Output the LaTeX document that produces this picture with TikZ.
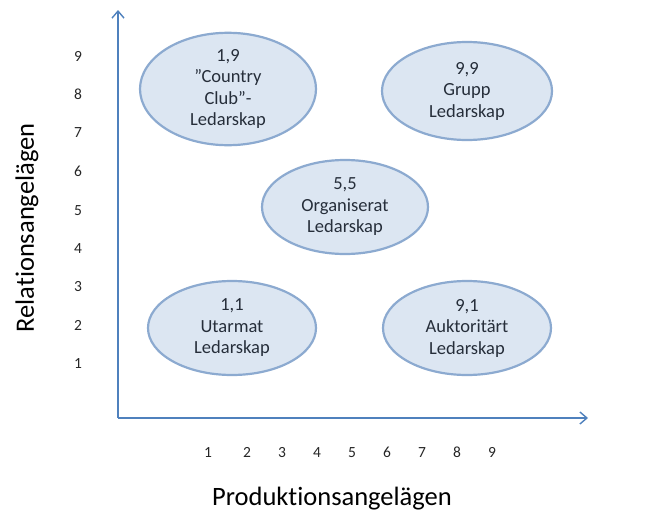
\documentclass[tikz,border=0pt]{standalone}
\usepackage{fontspec}
\setmainfont{Carlito}[Ligatures=NoCommon, Numbers=Lining]
\usepackage{xcolor}
\usetikzlibrary{arrows.meta,shapes.geometric}
\definecolor{axisblue}{RGB}{79,129,189}
\definecolor{ringblue}{RGB}{140,170,208}
\definecolor{fillblue}{RGB}{220,230,242}
\definecolor{inktext}{RGB}{38,46,58}
\tikzset{
  style/.style={ellipse, draw=ringblue, line width=2.2pt, fill=fillblue, minimum width=168pt, minimum height=94pt, align=center, inner sep=0pt, text=inktext, font=\fontsize{18.5}{21.5}\selectfont},
  axis/.style={axisblue, line width=1.6pt, -{Straight Barb[length=7pt,width=12pt,line width=1.4pt]}},
  tick/.style={font=\fontsize{15.5}{17}\selectfont, text=black!85, text height=10pt, text depth=0pt},
  title/.style={font=\fontsize{26.5}{30}\selectfont, text=black}
}

\begin{document}
\begin{tikzpicture}[x=1pt,y=-1pt]
  \useasboundingbox (0,0) rectangle (656,522);

  \coordinate (origin) at (118,418);
  \coordinate (ytop) at (118,10);
  \coordinate (xend) at (588,418);
  \draw[axis] (origin) -- (ytop);
  \draw[axis] (origin) -- (xend);

  \node[style, minimum width=176pt, minimum height=98pt] (club) at (228,89) {1,9\\\textquotedblright Country\\Club\textquotedblright -\\Ledarskap};
  \node[style, minimum width=170pt, minimum height=98pt] (grupp) at (467,91) {9,9\\Grupp\\Ledarskap};
  \node[style, minimum width=166pt, minimum height=94pt] (org) at (345,207) {5,5\\Organiserat\\Ledarskap};
  \node[style] (utarmat) at (232,328) {1,1\\Utarmat\\Ledarskap};
  \node[style] (auktor) at (467,328) {9,1\\Auktorit\"art\\Ledarskap};

  \node[tick] (y9) at (78,56) {9};
  \node[tick] (y8) at (78,94) {8};
  \node[tick] (y7) at (78,132) {7};
  \node[tick] (y6) at (78,171) {6};
  \node[tick] (y5) at (78,210) {5};
  \node[tick] (y4) at (78,248) {4};
  \node[tick] (y3) at (78,286) {3};
  \node[tick] (y2) at (78,325) {2};
  \node[tick] (y1) at (78,363) {1};

  \node[tick] (x1) at (208,452) {1};
  \node[tick] (x2) at (247,452) {2};
  \node[tick] (x3) at (282,452) {3};
  \node[tick] (x4) at (317,452) {4};
  \node[tick] (x5) at (352,452) {5};
  \node[tick] (x6) at (387,452) {6};
  \node[tick] (x7) at (422,452) {7};
  \node[tick] (x8) at (457,452) {8};
  \node[tick] (x9) at (492,452) {9};

  \node[title, rotate=90] (ylabel) at (27,228) {Relationsangel\"agen};
  \node[title] (xlabel) at (332,499) {Produktionsangel\"agen};
\end{tikzpicture}
\end{document}
